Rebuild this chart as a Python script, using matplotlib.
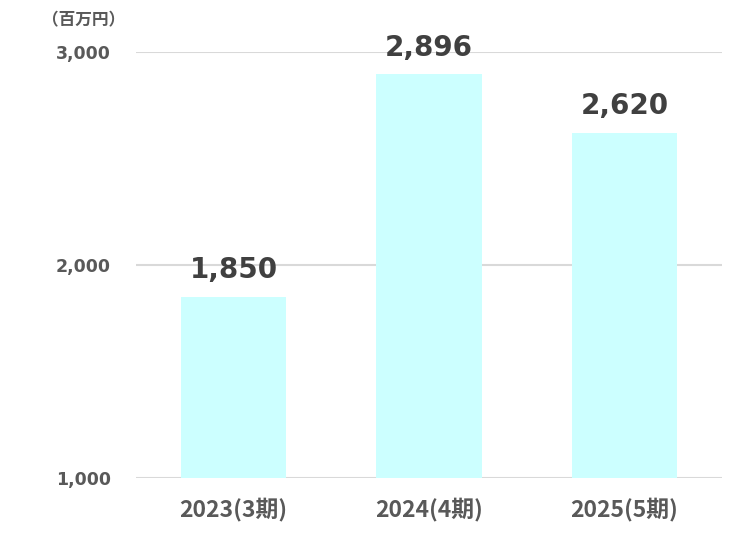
import matplotlib
matplotlib.use("Agg")
import matplotlib.pyplot as plt

categories = ["2023(3期)", "2024(4期)", "2025(5期)"]
values = [1850, 2896, 2620]
yticks = [1000, 2000, 3000]
ytick_labels = ["1,000", "2,000", "3,000"]

plt.rcParams['font.family'] = ['DejaVu Sans', 'Noto Sans CJK JP']

fig = plt.figure(figsize=(7.47, 5.33), dpi=100)
ax = fig.add_axes([136/747, 1-478/533, (722-136)/747, (478-52)/533])

x = range(len(categories))
ax.bar(x, values, width=0.54, color="#CCFFFF", zorder=2, bottom=0)
ax.set_xlim(-0.5, 2.5)
ax.set_ylim(1000, 3000)
ax.set_yticks(yticks)
ax.set_yticklabels(ytick_labels, fontsize=12.5, fontweight="bold", color="#595959")
ax.set_xticks(list(x))
ax.set_xticklabels(categories, fontsize=16.5, fontweight="bold", color="#595959",
                   family=['Noto Sans CJK JP'])
ax.tick_params(axis="both", length=0)
ax.tick_params(axis="y", pad=18)
ax.tick_params(axis="x", pad=14)
for s in ax.spines.values():
    s.set_visible(False)
ax.grid(axis="y", color="#D9D9D9", linewidth=1.5, zorder=0)
ax.set_axisbelow(True)

for xi, v in zip(x, values):
    ax.annotate(f"{v:,}", (xi, v), xytext=(0, 9), textcoords="offset points",
                ha="center", va="bottom", fontsize=20, fontweight="bold", color="#404040")

fig.text(84/747, 1-20/533, "（百万円）", ha="center", va="center", fontsize=12,
         fontweight="bold", color="#595959", family=['Noto Sans CJK JP'])

fig.savefig("out.png", dpi=100)
